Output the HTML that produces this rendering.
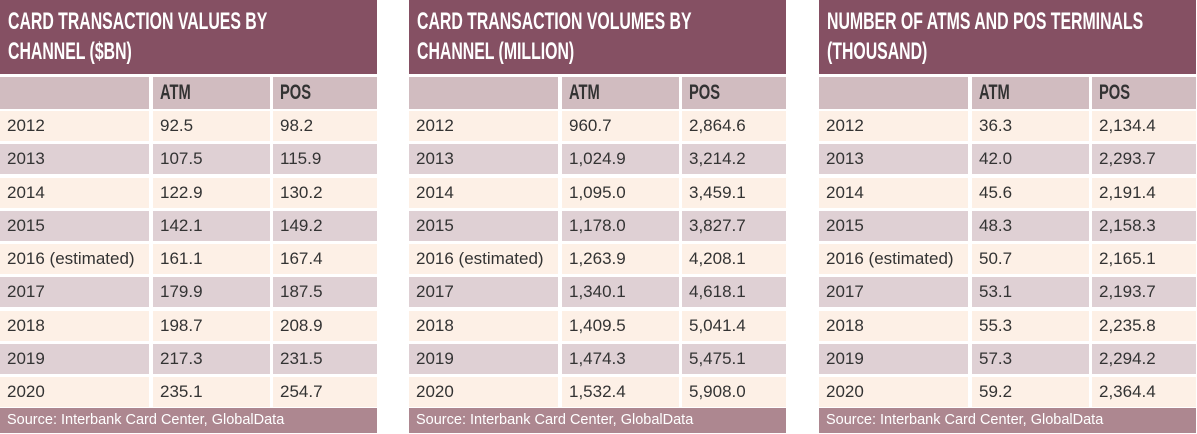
<!DOCTYPE html>
<html><head><meta charset="utf-8"><style>
body{margin:0;width:1197px;height:434px;background:#fff;position:relative;overflow:hidden;font-family:"Liberation Sans",sans-serif}
.p{position:absolute;top:0;width:377px;height:434px}
.h{position:absolute;left:0;top:0;width:377px;height:74px;background:#855063;color:#fff;font-weight:bold;font-size:24px;line-height:30px;padding:7px 8px;box-sizing:border-box;overflow:hidden}
.h span{display:block;white-space:nowrap;transform:scaleX(0.66);transform-origin:left center}
.c{position:absolute;height:30px;line-height:30px;font-size:17px;color:#333;padding-left:7px;box-sizing:border-box;white-space:nowrap}
.ch{background:#d1bcc0;font-weight:bold;font-size:21px;color:#333;height:32px;line-height:32px}
.ch span{display:inline-block;transform:scaleX(0.7);transform-origin:left center}
.a{background:#fdf0e6}.b{background:#dfd0d4}
.s{position:absolute;left:0;top:408px;width:377px;height:25px;background:#ad8790;color:#fff;font-size:14.5px;line-height:25px;padding-left:7px;box-sizing:border-box}
</style></head><body>
<script>
const titles=[["CARD TRANSACTION VALUES BY","CHANNEL ($BN)"],["CARD TRANSACTION VOLUMES BY","CHANNEL (MILLION)"],["NUMBER OF ATMS AND POS TERMINALS","(THOUSAND)"]];
const years=["2012","2013","2014","2015","2016 (estimated)","2017","2018","2019","2020"];
const atm1=["92.5","107.5","122.9","142.1","161.1","179.9","198.7","217.3","235.1"];
const pos1=["98.2","115.9","130.2","149.2","167.4","187.5","208.9","231.5","254.7"];
const atm2=["960.7","1,024.9","1,095.0","1,178.0","1,263.9","1,340.1","1,409.5","1,474.3","1,532.4"];
const pos2=["2,864.6","3,214.2","3,459.1","3,827.7","4,208.1","4,618.1","5,041.4","5,475.1","5,908.0"];
const atm3=["36.3","42.0","45.6","48.3","50.7","53.1","55.3","57.3","59.2"];
const pos3=["2,134.4","2,293.7","2,191.4","2,158.3","2,165.1","2,193.7","2,235.8","2,294.2","2,364.4"];
const data=[[atm1,pos1],[atm2,pos2],[atm3,pos3]];
const px=[0,409,819];
const cx=[0,153,273],cw=[149,117,104];
const names=["values","volumes","terminals"];
px.forEach((x,i)=>{
 const p=document.createElement('div');p.className='p';p.style.left=x+'px';
 
 
 const h=document.createElement('div');h.className='h';h.innerHTML='<span>'+titles[i][0]+'</span><span>'+titles[i][1]+'</span>';
 
 
 p.appendChild(h);
 ["","ATM","POS"].forEach((t,j)=>{
  const c=document.createElement('div');c.className='c ch';c.innerHTML='<span>'+t+'</span>';
  c.style.left=cx[j]+'px';c.style.width=cw[j]+'px';c.style.top='77px';
  
  
  p.appendChild(c);
 });
 years.forEach((y,r)=>{
  const vals=[y,data[i][0][r],data[i][1][r]];
  vals.forEach((t,j)=>{
   const c=document.createElement('div');c.className='c '+(r%2?'b':'a');c.textContent=t;
   c.style.left=cx[j]+'px';c.style.width=cw[j]+'px';c.style.top=(111+r*33.25)+'px';
   
   
   p.appendChild(c);
  });
 });
 const s=document.createElement('div');s.className='s';s.textContent='Source: Interbank Card Center, GlobalData';
 
 
 p.appendChild(s);
 document.body.appendChild(p);
});
</script>
</body></html>
